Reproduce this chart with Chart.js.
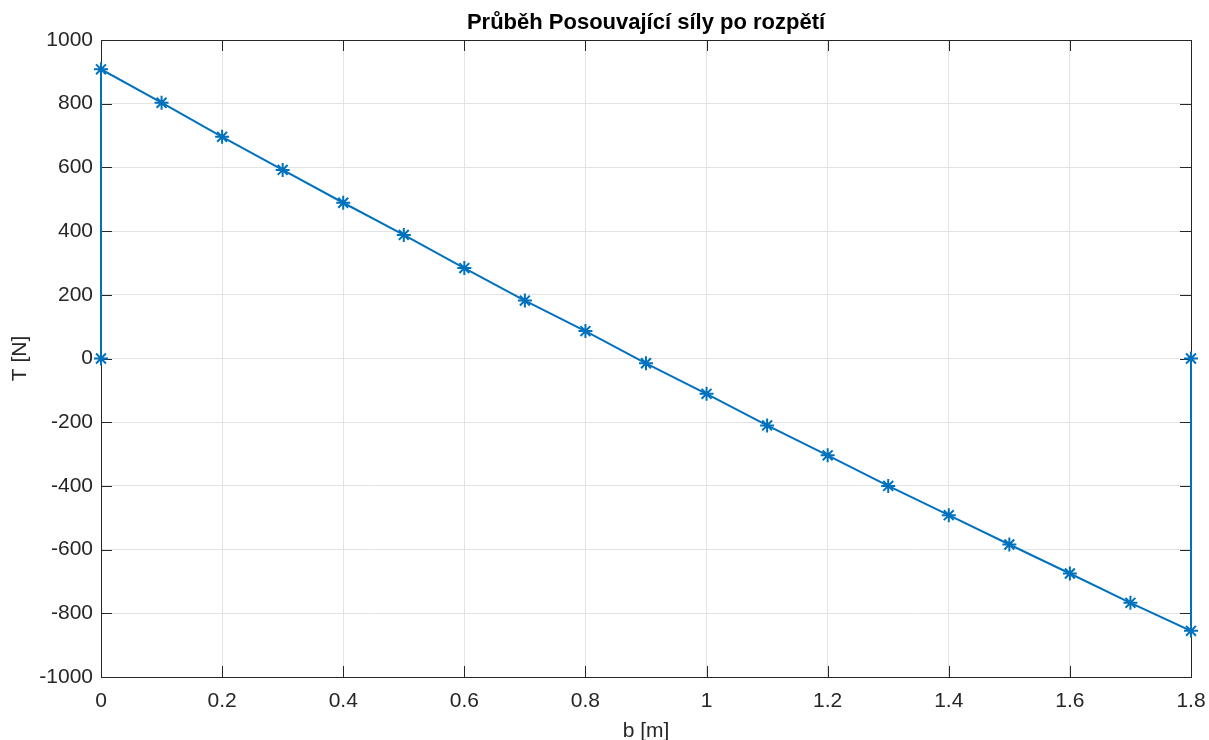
<!doctype html>
<html>
    <head>
        <meta charset="UTF-8" />
        <script src="https://cdn.jsdelivr.net/npm/chart.js"></script>
        <style>
            html, body { margin: 0; padding: 0; background: #fff; }
            #wrap { width: 1209px; height: 740px; }
        </style>
    </head>
    <body>
        <div id="wrap"><canvas id="shearChart" width="1209" height="740"></canvas></div>
        <script>
            // span positions b [m] and shear force T [N]
            const spanB = [0, 0, 0.1, 0.2, 0.3, 0.4, 0.5, 0.6, 0.7, 0.8, 0.9, 1.0, 1.1, 1.2, 1.3, 1.4, 1.5, 1.6, 1.7, 1.8, 1.8];
            const shearT = [0, 908, 803, 696, 592, 489, 388, 284, 182, 86, -15, -111, -210, -304, -400, -492, -584, -675, -767, -855, 0];
            const xTicks = [0, 0.2, 0.4, 0.6, 0.8, 1, 1.2, 1.4, 1.6, 1.8];
            const yTicks = [-1000, -800, -600, -400, -200, 0, 200, 400, 600, 800, 1000];

            const ink = "#262626";
            const lineBlue = "#0072BD";
            const tickFont = { family: "Liberation Sans, Arial, sans-serif", size: 21 };

            // axes box + inward tick marks, drawn under the data
            const axesBox = {
                id: "axesBox",
                beforeDatasetsDraw(chart) {
                    const { ctx, chartArea: a, scales } = chart;
                    const len = 11;
                    ctx.save();
                    ctx.strokeStyle = ink;
                    ctx.lineWidth = 1;
                    ctx.beginPath();
                    xTicks.forEach((v) => {
                        const px = Math.round(scales.x.getPixelForValue(v)) + 0.5;
                        ctx.moveTo(px, a.bottom); ctx.lineTo(px, a.bottom - len);
                        ctx.moveTo(px, a.top); ctx.lineTo(px, a.top + len);
                    });
                    yTicks.forEach((v) => {
                        const py = Math.round(scales.y.getPixelForValue(v)) + 0.5;
                        ctx.moveTo(a.left, py); ctx.lineTo(a.left + len, py);
                        ctx.moveTo(a.right, py); ctx.lineTo(a.right - len, py);
                    });
                    ctx.stroke();
                    ctx.strokeRect(Math.round(a.left) + 0.5, Math.round(a.top) + 0.5,
                        Math.round(a.right - a.left), Math.round(a.bottom - a.top));
                    ctx.restore();
                },
            };

            new Chart(document.getElementById("shearChart"), {
                type: "scatter",
                data: {
                    datasets: [
                        {
                            data: spanB.map((b, i) => ({ x: b, y: shearT[i] })),
                            showLine: true,
                            clip: false,
                            borderColor: lineBlue,
                            borderWidth: 2,
                            pointStyle: "star",
                            pointRadius: 7,
                            pointBorderWidth: 2,
                            pointBorderColor: lineBlue,
                            pointBackgroundColor: lineBlue,
                            tension: 0,
                        },
                    ],
                },
                options: {
                    responsive: false,
                    animation: false,
                    layout: { padding: { left: 0, right: 18, top: 0, bottom: 0 } },
                    plugins: {
                        legend: { display: false },
                        tooltip: { enabled: false },
                        title: {
                            display: true,
                            fullSize: false,
                            text: "Průběh Posouvající síly po rozpětí",
                            color: "#000",
                            font: { family: "Liberation Sans, Arial, sans-serif", size: 22, weight: "bold", lineHeight: 1 },
                            padding: { top: 12, bottom: 6 },
                        },
                    },
                    scales: {
                        x: {
                            type: "linear",
                            min: 0,
                            max: 1.8,
                            afterBuildTicks: (s) => { s.ticks = xTicks.map((v) => ({ value: v })); },
                            afterFit: (s) => { s.height = 63; s.paddingLeft = 0; s.paddingRight = 0; },
                            grid: { color: "#e3e3e3", drawTicks: false },
                            border: { display: false },
                            ticks: {
                                color: ink,
                                font: tickFont,
                                padding: 12,
                                maxRotation: 0,
                                callback: (v) => String(+Number(v).toFixed(1)),
                            },
                            title: {
                                display: true,
                                text: "b [m]",
                                color: ink,
                                font: tickFont,
                                padding: { top: 0, bottom: -4 },
                            },
                        },
                        y: {
                            type: "linear",
                            min: -1000,
                            max: 1000,
                            afterBuildTicks: (s) => { s.ticks = yTicks.map((v) => ({ value: v })); },
                            afterFit: (s) => { s.width = 101; s.paddingTop = 0; s.paddingBottom = 0; },
                            grid: { color: "#e3e3e3", drawTicks: false },
                            border: { display: false },
                            ticks: {
                                color: ink,
                                font: tickFont,
                                padding: 8,
                                callback: (v) => String(v),
                            },
                            title: {
                                display: true,
                                text: "T [N]",
                                color: ink,
                                font: tickFont,
                                padding: { top: 8, bottom: 0 },
                            },
                        },
                    },
                },
                plugins: [axesBox],
            });
        </script>
    </body>
</html>
